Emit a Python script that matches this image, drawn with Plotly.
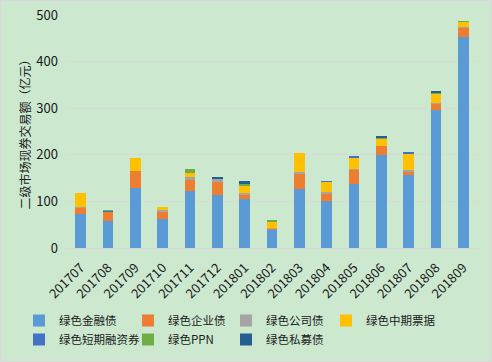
import plotly.graph_objects as go

months = ["201707", "201708", "201709", "201710", "201711", "201712", "201801", "201802",
          "201803", "201804", "201805", "201806", "201807", "201808", "201809"]

green_financial = [73, 57, 129, 62, 122, 113, 105, 40, 126, 100, 137.5, 199, 156, 297, 453]
green_enterprise = [13, 21, 36, 17, 24, 29, 10, 2, 33, 17.5, 30, 20, 7, 14, 20]
green_corporate = [1.5, 1, 0, 2, 6, 7, 2, 2, 4, 2.5, 2, 0.5, 4.5, 0.5, 0.5]
green_mtn = [30, 0, 28, 6.5, 8.5, 0, 16, 12, 40, 22, 25.5, 16, 36, 19, 12]
green_scp = [0, 2, 0, 0, 0, 0, 0, 0, 0, 1, 1, 0, 1.5, 0, 0]
green_ppn = [0, 0.5, 0, 0, 8.5, 1, 4.5, 2, 0, 0, 0, 1, 0, 4, 1.5]
green_private = [0, 0, 0, 0, 0, 0.5, 5.5, 0, 0, 0, 0, 2, 0, 3, 0]

# (name, values, color, legend column)
series = [
    ("绿色金融债", green_financial, "#5B9BD5", "legend"),
    ("绿色企业债", green_enterprise, "#ED7D31", "legend2"),
    ("绿色公司债", green_corporate, "#A5A5A5", "legend3"),
    ("绿色中期票据", green_mtn, "#FFC000", "legend4"),
    ("绿色短期融资券", green_scp, "#4472C4", "legend"),
    ("绿色PPN", green_ppn, "#70AD47", "legend2"),
    ("绿色私募债", green_private, "#255E91", "legend3"),
]

fig = go.Figure()
for name, vals, color, lg in series:
    fig.add_trace(go.Bar(x=months, y=vals, name=name, legend=lg,
                         marker=dict(color=color, line=dict(width=0))))

font_family = "Noto Sans CJK SC, Noto Sans, sans-serif"
W, H = 492, 362
ml, mr, mt, mb = 67, 15, 15, 114
pw = W - ml - mr
ph = H - mt - mb

legend_top_px = 306
col_left_px = [19, 128, 226, 326]


def legend_cfg(left_px):
    return dict(
        orientation="v",
        x=(left_px - ml) / pw, xanchor="left",
        y=(mt + ph - legend_top_px) / ph, yanchor="top",
        font=dict(size=11.5, color="#1a1a1a"),
        itemwidth=30,
        tracegroupgap=0,
        traceorder="normal",
        bgcolor="rgba(0,0,0,0)",
    )


fig.update_layout(
    width=W, height=H,
    barmode="stack",
    bargap=0.6,
    paper_bgcolor="#CCE8CF",
    plot_bgcolor="#CCE8CF",
    margin=dict(l=ml, r=mr, t=mt, b=mb, autoexpand=False),
    font=dict(family=font_family, color="#1a1a1a", size=13),
    xaxis=dict(
        type="category",
        tickangle=-45,
        tickfont=dict(size=13, color="#1a1a1a"),
        ticklabelstandoff=6,
        showgrid=False,
        showline=True, linecolor="#D9D9D9", linewidth=1,
        ticks="",
    ),
    yaxis=dict(
        range=[0, 500],
        dtick=100,
        showgrid=True, gridcolor="#D9D9D9", gridwidth=1,
        zeroline=False,
        showline=False,
        ticks="",
        tickfont=dict(size=13, color="#1a1a1a"),
        ticklabelstandoff=8,
        title=dict(text="二级市场现券交易额（亿元）", font=dict(size=12, color="#1a1a1a"), standoff=3),
    ),
    legend=legend_cfg(col_left_px[0]),
    legend2=legend_cfg(col_left_px[1]),
    legend3=legend_cfg(col_left_px[2]),
    legend4=legend_cfg(col_left_px[3]),
    shapes=[dict(
        type="rect", xref="paper", yref="paper",
        x0=-ml / pw + 0.001, x1=1 + mr / pw - 0.001,
        y0=-mb / ph + 0.002, y1=1 + mt / ph - 0.002,
        line=dict(color="#D9D9D9", width=1.5), fillcolor="rgba(0,0,0,0)", layer="below",
    )],
)

fig.write_html("out.html", config={"displayModeBar": False},
               post_script="document.body.style.margin='0';document.body.style.padding='0';")
